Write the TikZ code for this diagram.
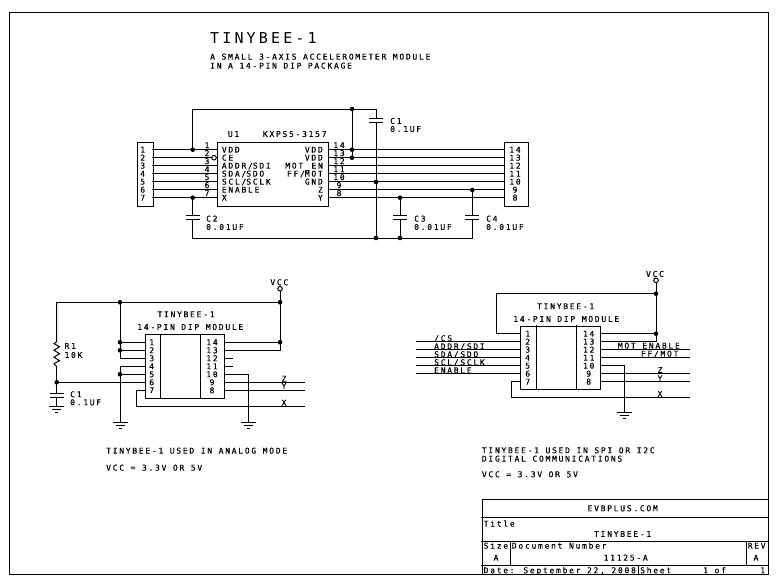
\documentclass[tikz,border=0pt]{standalone}
\usepackage{fontspec}
\usetikzlibrary{calc}
\newfontfamily\pf[LetterSpace=21.5,FakeBold=0.35]{DejaVu Sans Mono}
\newfontfamily\pt[LetterSpace=21]{DejaVu Sans Mono}
\tikzset{
  wire/.style={line width=1pt,line cap=rect},
  partbox/.style={draw,line width=1pt,inner sep=0pt,minimum width=0pt,minimum height=0pt},
  txt/.style={font=\fontsize{8}{8}\pf,inner sep=0pt,text height=5.8pt,text depth=0pt,anchor=west},
  ctxt/.style={txt,anchor=center},
  rtxt/.style={txt,anchor=east},
  titletxt/.style={font=\fontsize{15}{15}\pt,inner sep=0pt,text height=11pt,text depth=0pt,anchor=west},
  dot/.style={circle,fill=black,inner sep=0pt,minimum size=4.6pt},
  opencirc/.style={circle,draw,line width=1pt,fill=white,inner sep=0pt,minimum size=4.6pt},
  gndsym/.pic={\draw[line width=1pt] (-7.5,0)--(7.5,0) (-4.5,3.3)--(4.5,3.3) (-1.5,6.6)--(1.5,6.6);},
  plates/.pic={\draw[line width=1pt] (-7,-2)--(7,-2) (-7,2)--(7,2);}
}
\begin{document}
\begin{tikzpicture}[x=1pt,y=-1pt]
\useasboundingbox (0,0) rectangle (779,586);
% sheet frame
\node[partbox,anchor=north west,minimum width=758.7pt,minimum height=562pt] (frame) at (9,12) {};
% header
\node[titletxt] (ttl) at (210,37.7) {TINYBEE-1};
\node[txt] (sub1) at (210,56.7) {A SMALL 3-AXIS ACCELEROMETER MODULE};
\node[txt] (sub2) at (210,65.7) {IN A 14-PIN DIP PACKAGE};

% ---------- main schematic ----------
\node[partbox,anchor=north west,minimum width=16pt,minimum height=64.3pt] (jl) at (136.5,141.7) {};
\node[partbox,anchor=north west,minimum width=24pt,minimum height=64.3pt] (jr) at (504,141.7) {};
\node[partbox,anchor=north west,minimum width=111.3pt,minimum height=64pt] (u1) at (216.7,141.7) {};
\foreach \i/\n in {1/VDD,2/CE,3/ADDR\slash SDI,4/SDA\slash SDO,5/SCL\slash SCLK,6/ENABLE,7/X}{
  \coordinate (jl\i) at (152.5,{149.7+8*(\i-1)});
  \coordinate (ul\i) at (216.7,{149.7+8*(\i-1)});
  \node[ctxt] (jln\i) at (142.7,{149.7+8*(\i-1)}) {\i};
  \node[ctxt] (uln\i) at (207,{145.2+8*(\i-1)}) {\i};
  \node[txt] (uls\i) at (221.7,{149.7+8*(\i-1)}) {\n};
}
\foreach \k/\p/\n in {0/14/VDD,1/13/VDD,2/12/MOT\_EN,3/11/FF\slash MOT,4/10/GND,5/9/Z,6/8/Y}{
  \coordinate (jr\p) at (504,{149.7+8*\k});
  \coordinate (ur\p) at (328,{149.7+8*\k});
  \node[ctxt] (jrn\p) at (515,{149.7+8*\k}) {\p};
  \node[ctxt] (urn\p) at (339,{145.2+8*\k}) {\p};
  \node[rtxt] (urs\p) at (323,{149.7+8*\k}) {\n};
  \draw[wire] (ur\p) -- (jr\p);
}
\foreach \i in {1,3,4,5,6,7}{\draw[wire] (jl\i) -- (ul\i);}
\node[opencirc] (cebub) at (214,157.7) {};
\draw[wire] (jl2) -- (cebub);
\node[txt] (u1ref) at (227.7,134) {U1};
\node[txt] (u1val) at (262.7,134) {KXPS5-3157};

\coordinate (tl) at (192.7,109);
\coordinate (tm) at (352,109);
\coordinate (tr) at (376,109);
\coordinate (a1) at (192.7,149.7);
\coordinate (a14) at (352,149.7);
\coordinate (a13) at (352,157.7);
\coordinate (gn) at (376,182);
\coordinate (bl) at (192.7,238);
\coordinate (b3) at (400,238);
\coordinate (b1) at (376,238);
\coordinate (b4) at (472.3,238);
\coordinate (x2) at (192.7,197.7);
\coordinate (y3) at (400,197.7);
\coordinate (z4) at (472.3,190);
\coordinate (c1c) at (376,120.7);
\coordinate (c2c) at (192.7,217.3);
\coordinate (c3c) at (400,217.3);
\coordinate (c4c) at (472.3,217.3);
\draw[wire] (a1) -- (tl) -- (tr) -- ($(c1c)+(0,-2)$);
\draw[wire] ($(c1c)+(0,2)$) -- (b1);
\draw[wire] (tm) -- (a13);
\draw[wire] (x2) -- ($(c2c)+(0,-2)$);
\draw[wire] ($(c2c)+(0,2)$) -- (bl) -- (b4) -- ($(c4c)+(0,2)$);
\draw[wire] (y3) -- ($(c3c)+(0,-2)$);
\draw[wire] ($(c3c)+(0,2)$) -- (b3);
\draw[wire] (z4) -- ($(c4c)+(0,-2)$);
\foreach \c in {c1c,c2c,c3c,c4c}{\pic at (\c) {plates};}
\foreach \c in {tm,a1,a14,a13,gn,x2,y3,z4,b1,b3}{\node[dot] at (\c) {};}
\node[txt] (c1a) at (390,121) {C1};
\node[txt] (c1b) at (390,129) {0.1UF};
\node[txt] (c2a) at (206,218.7) {C2};
\node[txt] (c2b) at (206,227) {0.01UF};
\node[txt] (c3a) at (414,218.7) {C3};
\node[txt] (c3b) at (414,227) {0.01UF};
\node[txt] (c4a) at (486,218.7) {C4};
\node[txt] (c4b) at (486,227) {0.01UF};

% ---------- analog mode ----------
\node[partbox,anchor=north west,minimum width=79.3pt,minimum height=64pt] (ma) at (145,334.3) {};
\draw[wire] (160.3,334.3) -- (160.3,398.3) (200.7,334.3) -- (200.7,398.3);
\foreach \i in {1,...,7}{
  \coordinate (al\i) at (145,{342.3+8*(\i-1)});
  \node[ctxt] (aln\i) at (151.7,{342.3+8*(\i-1)}) {\i};
}
\foreach \k/\p in {0/14,1/13,2/12,3/11,4/10,5/9,6/8}{
  \coordinate (ar\p) at (224.3,{342.3+8*\k});
  \node[ctxt] (arn\p) at (212,{342.3+8*\k}) {\p};
}
\node[ctxt] (at1) at (186,314.3) {TINYBEE-1};
\node[ctxt] (at2) at (190.3,327) {14-PIN DIP MODULE};
\node[ctxt] (avcc) at (279.3,282.3) {VCC};
\node[opencirc] (avo) at (280,288.7) {};
\coordinate (ar) at (56.7,302.3);
\coordinate (an) at (120,302.3);
\coordinate (av) at (280,302.3);
\coordinate (av14) at (280,342.3);
\coordinate (av13) at (280,350.3);
\coordinate (an1) at (120,342.3);
\coordinate (an2) at (120,350.3);
\coordinate (an3) at (120,358.3);
\coordinate (ag4) at (120,366.3);
\coordinate (ag5) at (120,374.3);
\coordinate (agnd1) at (120,422);
\coordinate (agnd2) at (248,422);
\coordinate (aj6) at (56.7,382.3);
\coordinate (ar1t) at (56.7,341.7);
\coordinate (ar1b) at (56.7,366.7);
\coordinate (ac1) at (56.7,395);
\coordinate (ag0) at (56.7,406);
\draw[wire] (avo) -- (av13) -- (ar13);
\draw[wire] (av14) -- (ar14);
\draw[wire] (ar) -- (av);
\draw[wire] (an) -- (an3) -- (al3);
\draw[wire] (an1) -- (al1);
\draw[wire] (an2) -- (al2);
\draw[wire] (al4) -- (ag4) -- (agnd1);
\draw[wire] (ag5) -- (al5);
\draw[wire] (aj6) -- (al6);
\draw[wire] (al7) -- (136.3,390.3) -- (136.3,406) -- (304,406);
\draw[wire] (ar) -- (ar1t) -- ++(-2.7,2) -- ++(5.5,3) -- ++(-5.5,3.5) -- ++(5.5,3.5) -- ++(-5.5,3.5) -- ++(5.5,3.5) -- ++(-5.5,3) -- (ar1b);
\draw[wire] (ar1b) -- (aj6) -- ($(ac1)+(0,-2)$);
\draw[wire] ($(ac1)+(0,2)$) -- (ag0);
\draw[wire] (ar12) -- ++(8,0);
\draw[wire] (ar11) -- ++(8,0);
\draw[wire] (ar10) -- (248,374.3) -- (agnd2);
\draw[wire] (ar9) -- (304,382.3);
\draw[wire] (ar8) -- (304,390.3);
\pic at (ac1) {plates};
\pic at (ag0) {gndsym};
\pic at (agnd1) {gndsym};
\pic at (agnd2) {gndsym};
\foreach \c in {an,av,av14,an1,an2,ag5,aj6}{\node[dot] at (\c) {};}
\node[txt] (ar1a) at (64.3,346) {R1};
\node[txt] (ar1v) at (64.3,355) {10K};
\node[txt] (ac1a) at (70,394.3) {C1};
\node[txt] (ac1v) at (70,402.3) {0.1UF};
\node[ctxt] (az) at (284,378.7) {Z};
\node[ctxt] (ay) at (284,386) {Y};
\node[ctxt] (ax) at (284,402.7) {X};
\node[txt] (an1t) at (106,450.7) {TINYBEE-1 USED IN ANALOG MODE};
\node[txt] (an2t) at (106,467.7) {VCC = 3.3V OR 5V};

% ---------- digital mode ----------
\node[partbox,anchor=north west,minimum width=80pt,minimum height=63.6pt] (md) at (520.3,325.7) {};
\draw[wire] (536.3,325.7) -- (536.3,389.3) (576.3,325.7) -- (576.3,389.3);
\foreach \i in {1,...,7}{
  \coordinate (dl\i) at (520.3,{333.7+8*(\i-1)});
  \node[ctxt] (dln\i) at (527.7,{333.7+8*(\i-1)}) {\i};
}
\foreach \k/\p in {0/14,1/13,2/12,3/11,4/10,5/9,6/8}{
  \coordinate (dr\p) at (600.3,{333.7+8*\k});
  \node[ctxt] (drn\p) at (588.7,{333.7+8*\k}) {\p};
}
\foreach \i in {2,...,6}{\draw[wire] (416,{333.7+8*(\i-1)}) -- (dl\i);}
\node[ctxt] (dt1) at (565.7,306.3) {TINYBEE-1};
\node[ctxt] (dt2) at (566.3,319) {14-PIN DIP MODULE};
\node[ctxt] (dvcc) at (655,274) {VCC};
\node[opencirc] (dvo) at (656,280.3) {};
\coordinate (dtl) at (496.3,293.7);
\coordinate (dv) at (656,293.7);
\coordinate (dv14) at (656,333.7);
\coordinate (dv13) at (656,341.7);
\coordinate (dgnd) at (624,412);
\draw[wire] (dvo) -- (dv13) -- (dr13);
\draw[wire] (dv) -- (dtl) -- (496.3,333.7) -- (dl1);
\draw[wire] (dr14) -- (dv14);
\draw[wire] (dl7) -- (511.7,381.7) -- (511.7,397.7) -- (689,397.7);
\draw[wire] (dr12) -- (689,349.7);
\draw[wire] (dr11) -- (689,357.7);
\draw[wire] (dr10) -- (624,365.7) -- (dgnd);
\draw[wire] (dr9) -- (689,373.7);
\draw[wire] (dr8) -- (689,381.7);
\pic at (dgnd) {gndsym};
\foreach \c in {dv,dv14}{\node[dot] at (\c) {};}
\node[txt] (dcs) at (434,338.3) {/CS};
\node[txt] (dsdi) at (434,346.3) {ADDR/SDI};
\node[txt] (dsdo) at (434,354.3) {SDA/SDO};
\node[txt] (dsck) at (434,362.3) {SCL/SCLK};
\node[txt] (den) at (434,370.3) {ENABLE};
\node[txt] (dmot) at (617.7,345.7) {MOT ENABLE};
\node[txt] (dff) at (640.7,353.7) {FF/MOT};
\node[ctxt] (dz) at (660,370) {Z};
\node[ctxt] (dy) at (660,378.3) {Y};
\node[ctxt] (dx) at (660,394) {X};
\node[txt] (dn1) at (481.7,450.3) {TINYBEE-1 USED IN SPI OR I2C};
\node[txt] (dn2) at (481.7,458.7) {DIGITAL COMMUNICATIONS};
\node[txt] (dn3) at (481.7,474.3) {VCC = 3.3V OR 5V};

% ---------- title block ----------
\node[partbox,anchor=north west,minimum width=286pt,minimum height=75pt] (tb) at (481.7,499) {};
\draw[wire] (tb.west |- 0,517.7) -- (tb.east |- 0,517.7);
\draw[wire] (tb.west |- 0,541) -- (tb.east |- 0,541);
\draw[wire] (tb.west |- 0,565) -- (tb.east |- 0,565);
\draw[wire] (510,541) -- (510,565) (746.7,541) -- (746.7,565) (638.7,565) -- (638.7,574);
\node[ctxt] (t1) at (622.7,508.3) {EVBPLUS.COM};
\node[txt] (t2) at (483.5,523.7) {Title};
\node[ctxt] (t3) at (622.7,534) {TINYBEE-1};
\node[txt] (t4) at (483.5,545.7) {Size};
\node[ctxt] (t5) at (496,557.7) {A};
\node[txt] (t6) at (511.7,545.7) {Document Number};
\node[ctxt] (t7) at (625.7,557.7) {11125-A};
\node[txt] (t8) at (747.5,545.7) {REV};
\node[ctxt] (t9) at (756,557.7) {A};
\node[txt] (t10) at (483.5,570.3) {Date: September 22, 2008};
\node[txt] (t11) at (640,570.3) {Sheet};
\node[txt] (t12) at (703,570.3) {1 of};
\node[ctxt] (t13) at (762.7,570.3) {1};
\end{tikzpicture}
\end{document}
